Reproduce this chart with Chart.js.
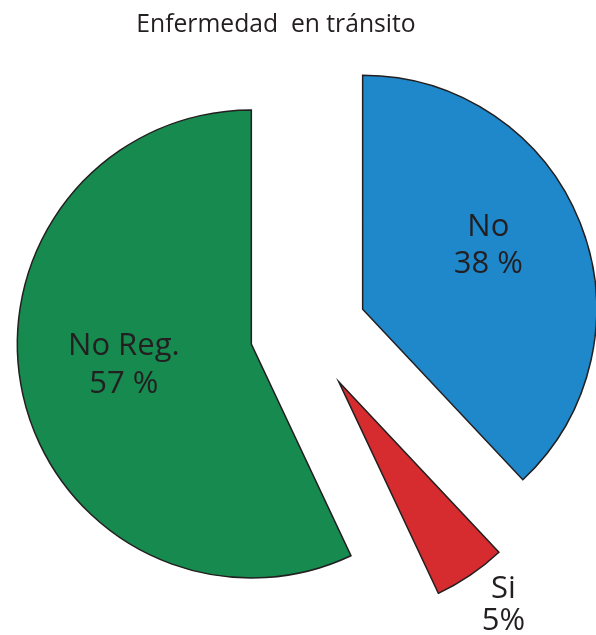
<!DOCTYPE html>
<html lang="es">
<head>
<meta charset="UTF-8" />
<title>Enfermedad en tránsito</title>
<script src="https://cdn.jsdelivr.net/npm/chart.js"></script>
<style>
  html, body { margin: 0; padding: 0; background: #fff; }
  #wrap { width: 596px; height: 635px; }
</style>
</head>
<body>
<div id="wrap"><canvas id="pieChart" width="596" height="635"></canvas></div>
<script>
  // Datos
  var titulo = "Enfermedad  en tránsito";
  var categorias = ["No", "Si", "No Reg."];
  var valores = [38, 5, 57];
  var etiquetasPct = ["38 %", "5%", "57 %"];

  // Estilo
  var colores = ["#1e88cb", "#d62b2f", "#168a4f"];
  var desplazamiento = [62, 60, 55]; // separación de cada porción (px)
  var textoPos = [
    { da: -1.3, r: 199, lh: 37 },
    { da: -0.9, r: 345, lh: 32 },
    { da: -0.5, r: 186, lh: 38 }
  ];
  var RADIO = 234;
  var FUENTE = "'Open Sans', 'Noto Sans', sans-serif";

  // Chart.js agranda el radio y recorta el ángulo de las porciones
  // desplazadas; lo compensamos para que queden como en el original
  var ajusteRadio = {
    id: "ajusteRadio",
    beforeDatasetsDraw: function (chart) {
      var meta = chart.getDatasetMeta(0);
      var R = meta.controller.outerRadius;
      meta.data.forEach(function (arc) {
        if (arc.$ajustado) return;
        var off = (arc.options.offset || 0) / 4;
        var fix = 1 - Math.sin(Math.min(Math.PI, arc.circumference || 0));
        var ro = off * fix;
        arc.outerRadius = R - ro;
        var d = ro / (2 * Math.PI * R);
        arc.startAngle -= d;
        arc.endAngle += d;
        arc.$ajustado = true;
      });
    }
  };

  // Textos de las porciones y título
  var etiquetas = {
    id: "etiquetas",
    afterDatasetsDraw: function (chart) {
      var ctx = chart.ctx;
      var meta = chart.getDatasetMeta(0);
      ctx.save();
      ctx.fillStyle = "#231f20";
      ctx.textAlign = "center";
      ctx.textBaseline = "alphabetic";
      ctx.font = "31px " + FUENTE;
      meta.data.forEach(function (arc, i) {
        var p = textoPos[i];
        var a = (arc.startAngle + arc.endAngle) / 2 + p.da * Math.PI / 180;
        var x = arc.x + Math.cos(a) * p.r;
        var y = arc.y + Math.sin(a) * p.r;
        ctx.fillText(categorias[i], x, y - p.lh / 2);
        ctx.fillText(etiquetasPct[i], x, y + p.lh / 2);
      });
      ctx.font = "24.7px " + FUENTE;
      ctx.fillText(titulo, 276, 32);
      ctx.restore();
    }
  };

  new Chart(document.getElementById("pieChart"), {
    type: "pie",
    data: {
      labels: categorias,
      datasets: [
        {
          data: valores,
          backgroundColor: colores,
          borderColor: "#231f20",
          borderWidth: 1.5,
          borderJoinStyle: "miter",
          offset: desplazamiento.map(function (d) { return d * 4; })
        }
      ]
    },
    options: {
      responsive: false,
      animation: false,
      events: [],
      radius: RADIO,
      layout: { padding: { left: 14, right: 0, top: 29, bottom: 0 } },
      plugins: {
        legend: { display: false },
        tooltip: { enabled: false },
        title: { display: false }
      }
    },
    plugins: [ajusteRadio, etiquetas]
  });
</script>
</body>
</html>
